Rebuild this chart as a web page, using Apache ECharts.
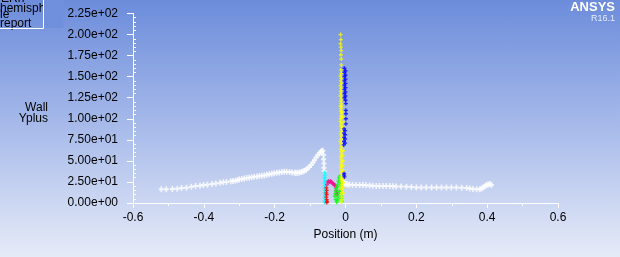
<!DOCTYPE html>
<html>
<head>
<meta charset="utf-8">
<script src="https://cdn.jsdelivr.net/npm/echarts@6/dist/echarts.min.js"></script>
<style>
html,body{margin:0;padding:0;}
#c{width:620px;height:257px;background:linear-gradient(to bottom,#6c8cdb 0%,#a8bbea 50%,#e6ebf8 100%);}
</style>
</head>
<body>
<div id="c"></div>
<script>
// ---- tick labels ----
const xTickLabels = ['-0.6','-0.4','-0.2','0','0.2','0.4','0.6'];
const yTickLabels = ['0.00e+00','2.50e+01','5.00e+01','7.50e+01','1.00e+02','1.25e+02','1.50e+02','1.75e+02','2.00e+02','2.25e+02'];

// ---- white wall (left of cavity) ----
const whiteLeftX = [-0.520,-0.506,-0.489,-0.475,-0.463,-0.449,-0.435,-0.423,-0.411,-0.401,-0.390,-0.377,-0.366,-0.354,-0.345,-0.336,-0.324,-0.318,-0.311,-0.305,-0.300,-0.293,-0.286,-0.279,-0.272,-0.265,-0.258,-0.250,-0.243,-0.236,-0.229,-0.222,-0.215,-0.208,-0.201,-0.194,-0.187,-0.180,-0.173,-0.166,-0.158,-0.151,-0.144,-0.140,-0.135,-0.130,-0.125,-0.120,-0.116,-0.111,-0.107,-0.102,-0.097,-0.092,-0.088,-0.083,-0.078,-0.074,-0.070,-0.067,-0.064,-0.062,-0.062,-0.061,-0.061,-0.060];
const whiteLeftY = [16.2,16.2,16.6,17.0,17.8,18.2,19.3,20.1,20.5,21.3,21.7,22.5,23.3,24.1,24.5,24.9,25.7,26.0,26.4,27.2,28.0,28.6,29.2,29.6,30.0,30.6,31.1,31.6,32.0,32.4,32.8,33.4,34.0,34.6,35.2,35.8,36.3,36.7,37.1,37.0,36.7,36.3,35.9,35.8,35.9,36.3,36.7,37.4,38.3,39.6,41.1,43.0,45.0,48.0,50.9,54.0,56.8,59.0,60.8,61.8,62.0,57.0,52.0,47.0,42.0,38.0];

// ---- white wall (right of cavity) ----
const whiteRightX = [-0.006,-0.002,0.002,0.006,0.011,0.020,0.030,0.040,0.049,0.058,0.068,0.077,0.087,0.096,0.106,0.115,0.125,0.134,0.143,0.157,0.172,0.186,0.200,0.214,0.228,0.243,0.257,0.271,0.285,0.299,0.313,0.328,0.342,0.351,0.360,0.370,0.379,0.384,0.389,0.394,0.398,0.403,0.408,0.412];
const whiteRightY = [24.1,23.3,22.5,22.1,21.7,21.5,21.3,21.3,21.3,21.1,20.9,20.5,20.1,20.1,20.1,20.1,20.1,19.9,19.7,19.5,19.3,18.9,18.5,18.5,18.5,18.5,18.5,18.5,18.5,18.5,18.5,18.1,17.8,17.2,16.6,16.4,16.2,17.2,18.5,20.0,21.3,22.0,22.5,21.3];

// ---- cavity surfaces ----
const cyanX = [-0.059,-0.058,-0.059,-0.058,-0.059,-0.058,-0.059,-0.058,-0.059,-0.058,-0.059,-0.058,-0.059];
const cyanY = [36,33,30,27,24,21,18,15,12,9,6,3,1];

const redX = [-0.054,-0.053,-0.054,-0.053,-0.054,-0.053,-0.052,-0.053];
const redY = [18,15,12,10,7,4,2,0.5];

const magentaX = [-0.052,-0.050,-0.048,-0.046,-0.044,-0.042,-0.040,-0.038,-0.036,-0.034,-0.032,-0.030,-0.028,-0.027,-0.026,-0.025,-0.024];
const magentaY = [22,25,26,25,25,26,25,24,23,23,22,21,20,18,15,12,10];

const greenX = [-0.030,-0.029,-0.028,-0.027,-0.026,-0.024,-0.022,-0.020,-0.018,-0.016,-0.015,-0.014,-0.013,-0.013,-0.012,-0.012,-0.011,-0.010,-0.021,-0.019,-0.017,-0.023,-0.025];
const greenY = [8,11,4,14,17,19,22,26,30,32,28,24,20,16,12,8,5,2,6,10,14,3,1];

const yellowX = [-0.014,-0.013,-0.014,-0.013,-0.012,-0.013,-0.012,-0.012,-0.013,-0.012,-0.014,-0.012,-0.013,-0.011,-0.014,-0.012,-0.013,-0.012,-0.014,-0.011,-0.013,-0.012,-0.014,-0.012,-0.013,-0.011,-0.012,-0.013,-0.014,-0.012,-0.013,-0.011,-0.012,-0.013,-0.011,-0.012,-0.014,-0.012,-0.011,-0.013,-0.012,-0.011,-0.013,-0.012,-0.011,-0.012,-0.013,-0.011,-0.012,-0.011,-0.012,-0.013,-0.011,-0.010,-0.012,-0.011,-0.010,-0.012,-0.011,-0.010,-0.012,-0.011,-0.010,
  -0.008,-0.007,-0.008,-0.007,-0.008,-0.007,-0.008,-0.007,-0.008,-0.007,-0.008,-0.007,-0.008,-0.007];
const yellowY = [200,194,189,185,181,176,171,164,158,154,151,148,145,142,139,136,133,130,127,124,121,118,115,112,109,106,103,100,97,94,91,88,85,82,79,76,73,70,67,64,61,58,55,52,49,46,43,40,37,34,31,28,25,22,19,16,13,10,7,4,1,
  115,108,102,96,90,62,56,50,44,38,28,24,18,12];

const blueX = [-0.003,0.000,-0.003,0.000,-0.003,0.000,-0.003,0.000,-0.003,0.000,-0.003,0.000,-0.003,0.000,-0.003,0.000,0.001,0.001,0.001,0.001,0.001,-0.004,-0.001,-0.004,-0.001,-0.004,-0.001,-0.004,-0.001,-0.005,-0.004,-0.004,-0.003];
const blueY = [160,157,155,152,150,147,145,142,140,137,135,132,130,127,125,122,118,110,106,100,94,88,86,83,81,78,76,73,71,69,35,33,31];

function pts(xs, ys){ return xs.map((x,i)=>[x, ys[i]]); }

const plus = 'path://M1,0H2V1H3V2H2V3H1V2H0V1H1Z';
function sc(name, xs, ys, color, size){
  return {
    name, type:'scatter', data: pts(xs, ys), symbol: plus, symbolSize: size,
    itemStyle:{color}, silent:true, animation:false, z:2
  };
}

const chart = echarts.init(document.getElementById('c'), null, {renderer:'canvas'});
const font = 'Arial, "Liberation Sans", sans-serif';
chart.setOption({
  animation:false,
  grid:{left:133, right:62, top:13.5, bottom:54, containLabel:false},
  xAxis:{
    type:'value', min:-0.6, max:0.6, interval:0.2,
    name:'Position (m)', nameLocation:'middle', nameGap:21,
    nameTextStyle:{color:'#000', fontSize:12, fontFamily:font},
    axisLine:{show:true, onZero:false, lineStyle:{color:'#ffffff', width:1}},
    axisTick:{show:true, length:5, lineStyle:{color:'#ffffff'}},
    minorTick:{show:true, splitNumber:2, length:3, lineStyle:{color:'#ffffff'}},
    splitLine:{show:false},
    axisLabel:{color:'#000', fontSize:12, fontFamily:font, margin:9,
      formatter:(v)=>{ const i=Math.round((v+0.6)/0.2); return xTickLabels[i]; }}
  },
  yAxis:[{
    type:'value', min:0, max:225, interval:25, position:'left', offset:0,
    axisLine:{show:true, onZero:false, lineStyle:{color:'#ffffff', width:1}},
    axisTick:{show:true, length:6, lineStyle:{color:'#ffffff'}},
    splitLine:{show:false},
    axisLabel:{color:'#000', fontSize:12, fontFamily:font, margin:15,
      formatter:(v)=>yTickLabels[Math.round(v/25)]}
  },{
    type:'value', min:0, max:225, interval:25, position:'left', offset:0,
    axisLine:{show:false, onZero:false},
    axisTick:{show:false, inside:true},
    minorTick:{show:true, splitNumber:5, length:3, lineStyle:{color:'#ffffff'}},
    splitLine:{show:false},
    axisLabel:{show:false}
  }],
  graphic:[
    {type:'text', x:48, y:102, style:{text:'Wall\nYplus', fill:'#000', font:'12px '+font, align:'right', lineHeight:11}},
    {type:'text', x:615, y:1, style:{text:'ANSYS', fill:'#ffffff', font:'bold 13px '+font, align:'right'}},
    {type:'text', x:615, y:14, style:{text:'R16.1', fill:'#e4ebff', font:'9px '+font, align:'right'}},
    {type:'group', x:0, y:0, children:[
      {type:'text', x:1, y:-7, style:{text:'ERn', fill:'#000', font:'12px '+font}},
      {type:'text', x:0, y:3, style:{text:'hemisphe', fill:'#000', font:'12px '+font}},
      {type:'text', x:0, y:9, style:{text:'le', fill:'#000', font:'12px '+font}},
      {type:'text', x:0, y:18, style:{text:'report', fill:'#000', font:'12px '+font}},
      {type:'rect', shape:{x:43.5, y:0, width:20, height:28}, style:{fill:'#7090dd'}},
      {type:'rect', shape:{x:-1, y:-1, width:44.5, height:29.5}, style:{fill:'none', stroke:'#ffffff', lineWidth:1}}
    ]}
  ],
  series:[
    sc('wall-left', whiteLeftX, whiteLeftY, '#ffffff', [5,6]),
    sc('wall-right', whiteRightX, whiteRightY, '#ffffff', [5,6]),
    sc('cyan', cyanX, cyanY, '#00ffff', 4),
    sc('red', redX, redY, '#ff0000', 4),
    sc('magenta', magentaX, magentaY, '#f0148c', 4),
    sc('green', greenX, greenY, '#00ff00', 4),
    sc('yellow', yellowX, yellowY, '#ffff00', 4),
    sc('blue', blueX, blueY, '#0000ff', 4)
  ]
});
</script>
</body>
</html>
